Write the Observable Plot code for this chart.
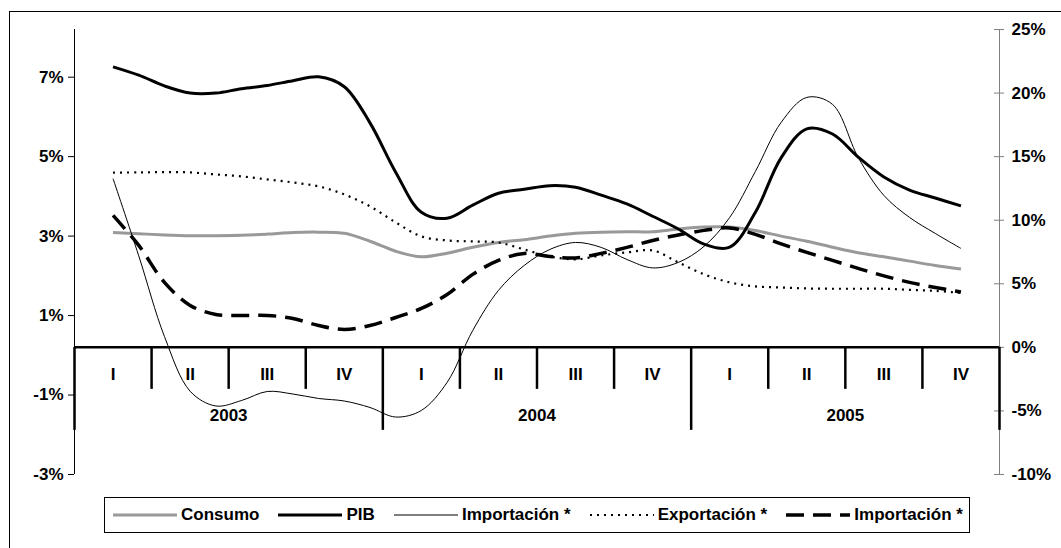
<!DOCTYPE html>
<html><head><meta charset="utf-8">
<script src="https://cdn.jsdelivr.net/npm/d3@7"></script>
<script src="https://cdn.jsdelivr.net/npm/@observablehq/plot@0.6"></script>
<style>
body{margin:0;background:#fff;font-family:"Liberation Sans",Arial,sans-serif;}
#wrap{position:relative;width:1061px;height:548px;overflow:hidden}
#frame{position:absolute;left:9px;top:11px;width:1060px;height:545px;border:1px solid #000;box-sizing:border-box;pointer-events:none}
#legend{position:absolute;left:104px;top:497px;width:866px;height:36px;border:1px solid #000;box-sizing:border-box;display:flex;align-items:center;justify-content:space-between;padding:0 6px 0 8px;font-weight:bold;font-size:17px;background:#fff;white-space:nowrap}
#legend .it{display:flex;align-items:center}
#legend svg{margin-right:4px}
</style></head>
<body><div id="wrap"><div id="chart"></div><div id="frame"></div><div id="legend"></div></div>
<script>
// Quarters and years of the category axis
const quarters = ["I","II","III","IV"];
const years = ["2003","2004","2005"];
// monthly points: index 0 = Feb 2003 (centre of Q I 2003) ... 33 = Nov 2005
const period = d3.range(34);

// left axis series (%)
const consumo = [3.09,3.06,3.03,3.01,3.01,3.02,3.05,3.09,3.10,3.07,2.87,2.62,2.48,2.57,2.72,2.84,2.91,3.00,3.07,3.10,3.11,3.11,3.18,3.23,3.23,3.14,3.00,2.87,2.72,2.58,2.48,2.37,2.26,2.17];
const pib = [7.26,7.05,6.78,6.60,6.60,6.71,6.79,6.91,7.01,6.76,5.85,4.61,3.60,3.45,3.78,4.08,4.18,4.27,4.23,4.03,3.81,3.50,3.18,2.80,2.72,3.60,4.97,5.70,5.57,4.99,4.49,4.16,3.96,3.76];
// right axis series (%)
const importacionFina = [13.27,7.2,0.86,-3.45,-4.61,-4.18,-3.47,-3.67,-4.02,-4.22,-4.73,-5.48,-4.96,-2.76,1.33,4.48,6.44,7.70,8.25,7.86,6.91,6.25,6.68,7.94,10.22,13.84,17.69,19.66,19.11,14.94,11.95,10.22,8.96,7.78];
const exportacion = [13.74,13.76,13.78,13.76,13.60,13.45,13.21,12.97,12.66,12.03,11.09,9.83,8.73,8.41,8.33,8.25,7.70,7.15,6.92,7.23,7.47,7.62,6.68,5.74,5.11,4.79,4.71,4.63,4.61,4.61,4.61,4.52,4.44,4.28];
const importacionTrazos = [10.38,8.02,5.11,3.30,2.59,2.51,2.51,2.27,1.72,1.41,1.72,2.35,3.06,4.16,5.74,6.84,7.39,7.15,7.03,7.39,7.86,8.41,8.84,9.20,9.39,8.88,8.14,7.47,6.84,6.21,5.62,5.11,4.71,4.36];

const leftTicks = [-3,-1,1,3,5,7];
const rightTicks = [-10,-5,0,5,10,15,20,25];
const leftDomain = [-3, 8.2];
const rightDomain = [-10, 25];

const toLeft = r => leftDomain[0] + (r - rightDomain[0]) / (rightDomain[1] - rightDomain[0]) * (leftDomain[1] - leftDomain[0]);
const fromLeft = l => rightDomain[0] + (l - leftDomain[0]) / (leftDomain[1] - leftDomain[0]) * (rightDomain[1] - rightDomain[0]);

const series = [
  {name:"Consumo", values: consumo, axis:"left", stroke:"#999999", width:3, dash:null},
  {name:"PIB", values: pib, axis:"left", stroke:"#000", width:3, dash:null},
  {name:"Importación *", values: importacionFina, axis:"right", stroke:"#000", width:1, dash:null},
  {name:"Exportación *", values: exportacion, axis:"right", stroke:"#000", width:2.2, dash:"2,5"},
  {name:"Importación *", values: importacionTrazos, axis:"right", stroke:"#000", width:3.5, dash:"18,9"}
];

const xDomain = [-1.5, 34.5];
const axisLevel = toLeft(0);
const qBounds = d3.range(13).map(i => -1.5 + 3*i);
const yearBounds = qBounds.filter((b,i) => i % 4 === 0);
const quarterBounds = qBounds.filter((b,i) => i % 4 !== 0);
const qLabels = years.flatMap((y,yi) => quarters.map((q,qi) => ({x: (yi*4+qi)*3, text: q})));
const yLabels = years.map((y,yi) => ({x: yi*12 + 4.5, text: y}));

const marks = [
  // left axis line and ticks
  Plot.ruleX([xDomain[0]], {stroke:"#000", strokeWidth:1}),
  Plot.axisY(leftTicks, {anchor:"left", tickSize:6, tickPadding:5, tickFormat: d => d + "%", fontSize:17, fontWeight:"bold", fill:"#000", stroke:"#000"}),
  // right axis line and ticks
  Plot.ruleX([xDomain[1]], {stroke:"#808080", strokeWidth:1}),
  Plot.ruleY(rightTicks.map(toLeft), {x1: xDomain[1], x2: xDomain[1], insetLeft:-5, insetRight:-5, stroke:"#808080"}),
  Plot.axisY(rightTicks.map(toLeft), {anchor:"right", tickSize:0, tickPadding:12, tickFormat: d => Math.round(fromLeft(d)) + "%", fontSize:17, fontWeight:"bold", fill:"#000"}),
  // category axis
  Plot.ruleY([axisLevel], {stroke:"#000", strokeWidth:2.5}),
  Plot.ruleX(quarterBounds, {y1: axisLevel, y2: axisLevel, insetBottom:-42, stroke:"#000", strokeWidth:2.5}),
  Plot.ruleX(yearBounds, {y1: axisLevel, y2: axisLevel, insetBottom:-83, stroke:"#000", strokeWidth:2.5}),
  Plot.text(qLabels, {x:"x", y: () => axisLevel, dy:27, text:"text", fontSize:17, fontWeight:"bold", fill:"#000"}),
  Plot.text(yLabels, {x:"x", y: () => axisLevel, dy:68, text:"text", fontSize:17, fontWeight:"bold", fill:"#000"}),
  // series
  ...series.map(s => Plot.line(period, {
    x: d => d,
    y: d => s.axis === "left" ? s.values[d] : toLeft(s.values[d]),
    curve: "catmull-rom",
    stroke: s.stroke,
    strokeWidth: s.width,
    strokeDasharray: s.dash,
    strokeLinecap: "butt"
  }))
];

const chart = Plot.plot({
  width: 1061, height: 548,
  marginLeft: 74, marginRight: 62, marginTop: 29, marginBottom: 74,
  x: {domain: xDomain, axis: null},
  y: {domain: leftDomain, axis: null},
  style: {fontFamily: '"Liberation Sans", Arial, sans-serif', background: "transparent", color:"#000"},
  marks
});
document.getElementById("chart").appendChild(chart);

// legend
const legend = document.getElementById("legend");
series.forEach(s => {
  const it = document.createElement("div");
  it.className = "it";
  const w = 64;
  it.innerHTML = `<svg width="${w}" height="10"><line x1="0" y1="5" x2="${w}" y2="5" stroke="${s.stroke}" stroke-width="${s.width}" ${s.dash ? `stroke-dasharray="${s.dash}"` : ""}/></svg><span>${s.name}</span>`;
  legend.appendChild(it);
});
</script>
</body></html>
